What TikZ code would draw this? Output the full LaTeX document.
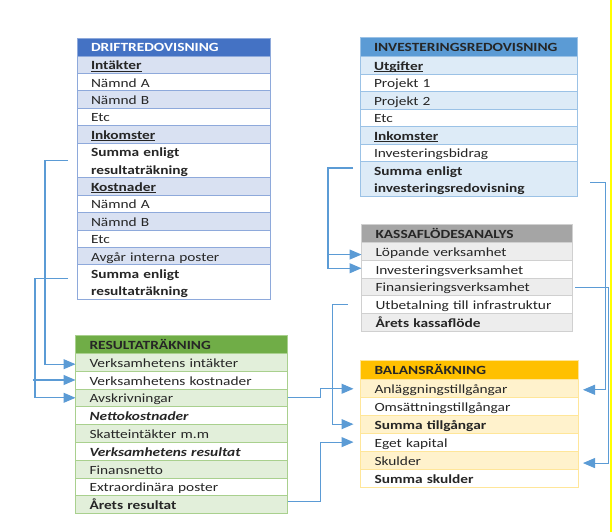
\documentclass[tikz,border=0pt]{standalone}
\usepackage{fontspec}
\setmainfont{Carlito}[FakeStretch=1.23]
\usetikzlibrary{arrows.meta,calc}
\definecolor{txt}{HTML}{262626}
\definecolor{dhead}{HTML}{4472C4}
\definecolor{dfill}{HTML}{D9E1F2}
\definecolor{dbord}{HTML}{8EA9DB}
\definecolor{ihead}{HTML}{5B9BD5}
\definecolor{ifill}{HTML}{DDEBF7}
\definecolor{ibord}{HTML}{9BC2E6}
\definecolor{khead}{HTML}{A5A5A5}
\definecolor{kfill}{HTML}{EDEDED}
\definecolor{kbord}{HTML}{D0D0D0}
\definecolor{rhead}{HTML}{70AD47}
\definecolor{rfill}{HTML}{E2EFDA}
\definecolor{rbord}{HTML}{A9D08E}
\definecolor{bhead}{HTML}{FFC000}
\definecolor{bfill}{HTML}{FFF2CC}
\definecolor{bbord}{HTML}{FFE699}
\definecolor{cblue}{HTML}{5B9BD5}
\definecolor{yel}{HTML}{FFFF00}
\newcommand\cellfont{\fontsize{12.5}{17.6}\selectfont}
\newcommand\rs{\rule[-2.8pt]{0pt}{15.6pt}}
\newcommand\myul[1]{\setbox0\hbox{#1}\rlap{\rule[-1.7pt]{\wd0}{0.75pt}}#1}
\tikzset{
  cell/.style={draw, line width=0.6pt, anchor=north west, inner xsep=14pt, inner ysep=0pt,
    outer sep=0pt, align=left, font=\cellfont, text=txt, execute at begin node=\rs},
  bf/.style={font=\cellfont\bfseries},
  bi/.style={font=\cellfont\bfseries\itshape},
  two/.style={minimum height=#1},
  drow/.style={cell, draw=dbord, text width=165pt, minimum height=17.4pt},
  dhd/.style={drow, fill=dhead, text=white, bf, minimum height=18pt},
  irow/.style={cell, draw=ibord, text width=189pt, minimum height=17.5pt},
  ihd/.style={irow, fill=ihead, bf, minimum height=19pt},
  krow/.style={cell, draw=kbord, text width=182.5pt, minimum height=17.7pt},
  khd/.style={krow, fill=khead, bf, minimum height=18.4pt},
  rrow/.style={cell, draw=rbord, text width=184pt, minimum height=17.8pt},
  rhd/.style={rrow, fill=rhead, bf, minimum height=18.3pt},
  brow/.style={cell, draw=bbord, text width=189.5pt, minimum height=17.95pt},
  bhd/.style={brow, fill=bhead, bf, minimum height=19.3pt},
  conn/.style={draw=cblue, line width=1.1pt, -{Triangle[length=12pt,width=10pt]}},
  connthin/.style={conn, line width=0.9pt},
}
\begin{document}
\begin{tikzpicture}[x=1pt,y=-1pt]
\useasboundingbox (0,0) rectangle (614,532);
\fill[white] (0,0) rectangle (614,532);

% DRIFTREDOVISNING
\node[dhd] (d0) at (77,38) {DRIFTREDOVISNING};
\node[drow, fill=dfill, bf] (d1) at (d0.south west) {\myul{Intäkter}};
\node[drow, fill=white] (d2) at (d1.south west) {Nämnd A};
\node[drow, fill=dfill] (d3) at (d2.south west) {Nämnd B};
\node[drow, fill=white] (d4) at (d3.south west) {Etc};
\node[drow, fill=dfill, bf] (d5) at (d4.south west) {\myul{Inkomster}};
\node[drow, fill=white, bf, two=34.8pt] (d6) at (d5.south west) {Summa enligt\\\rs resultaträkning};
\node[drow, fill=dfill, bf] (d7) at (d6.south west) {\myul{Kostnader}};
\node[drow, fill=white] (d8) at (d7.south west) {Nämnd A};
\node[drow, fill=dfill] (d9) at (d8.south west) {Nämnd B};
\node[drow, fill=white] (d10) at (d9.south west) {Etc};
\node[drow, fill=dfill] (d11) at (d10.south west) {Avgår interna poster};
\node[drow, fill=white, bf, two=34.8pt] (d12) at (d11.south west) {Summa enligt\\\rs resultaträkning};

% INVESTERINGSREDOVISNING
\node[ihd] (i0) at (360,37.5) {INVESTERINGSREDOVISNING};
\node[irow, fill=ifill, bf] (i1) at (i0.south west) {\myul{Utgifter}};
\node[irow, fill=white] (i2) at (i1.south west) {Projekt 1};
\node[irow, fill=ifill] (i3) at (i2.south west) {Projekt 2};
\node[irow, fill=white] (i4) at (i3.south west) {Etc};
\node[irow, fill=ifill, bf] (i5) at (i4.south west) {\myul{Inkomster}};
\node[irow, fill=white] (i6) at (i5.south west) {Investeringsbidrag};
\node[irow, fill=ifill, bf, two=35pt] (i7) at (i6.south west) {Summa enligt\\\rs investeringsredovisning};

% KASSAFLÖDESANALYS
\node[khd] (k0) at (361.5,224.3) {KASSAFLÖDESANALYS};
\node[krow, fill=kfill] (k1) at (k0.south west) {Löpande verksamhet};
\node[krow, fill=white] (k2) at (k1.south west) {Investeringsverksamhet};
\node[krow, fill=kfill] (k3) at (k2.south west) {Finansieringsverksamhet};
\node[krow, fill=white] (k4) at (k3.south west) {Utbetalning till infrastruktur};
\node[krow, fill=kfill, bf] (k5) at (k4.south west) {Årets kassaflöde};

% RESULTATRÄKNING
\node[rhd] (r0) at (75.5,335) {RESULTATRÄKNING};
\node[rrow, fill=rfill] (r1) at (r0.south west) {Verksamhetens intäkter};
\node[rrow, fill=white] (r2) at (r1.south west) {Verksamhetens kostnader};
\node[rrow, fill=rfill] (r3) at (r2.south west) {Avskrivningar};
\node[rrow, fill=white, bi] (r4) at (r3.south west) {Nettokostnader};
\node[rrow, fill=rfill] (r5) at (r4.south west) {Skatteintäkter m.m};
\node[rrow, fill=white, bi] (r6) at (r5.south west) {Verksamhetens resultat};
\node[rrow, fill=rfill] (r7) at (r6.south west) {Finansnetto};
\node[rrow, fill=white] (r8) at (r7.south west) {Extraordinära poster};
\node[rrow, fill=rfill, bf] (r9) at (r8.south west) {Årets resultat};

% BALANSRÄKNING
\node[bhd] (b0) at (360.5,360) {BALANSRÄKNING};
\node[brow, fill=bfill] (b1) at (b0.south west) {Anläggningstillgångar};
\node[brow, fill=white] (b2) at (b1.south west) {Omsättningstillgångar};
\node[brow, fill=bfill, bf] (b3) at (b2.south west) {Summa tillgångar};
\node[brow, fill=white] (b4) at (b3.south west) {Eget kapital};
\node[brow, fill=bfill] (b5) at (b4.south west) {Skulder};
\node[brow, fill=white, bf] (b6) at (b5.south west) {Summa skulder};

% connectors left
\draw[conn] ($(d6.west)+(-9,0)$) -- ++(-23,0) |- ($(r1.west)+(0,2)$);
\coordinate (dv) at ($(d12.west)+(-42,-4)$);
\draw[conn] ($(d12.west)+(-9,-4)$) -- (dv) |- (r3.west);
\coordinate (r2s) at ($(r2.west)+(-43,0)$);
\draw[conn] (r2s) -- (r2.west);

% investering -> kassa
\coordinate (iv) at ($(i7.west)+(-32,-11)$);
\coordinate (k1a) at ($(k1.west)+(0,3)$);
\draw[conn] ($(i7.west)+(-7,-11)$) -- (iv) |- ($(k2.west)+(0,-1)$);
\draw[conn] (iv |- k1a) -- (k1a);

% resultat/kassa -> balans
\draw[conn] (r3.east) -- ++(33,0) |- ($(b1.west)+(-7,0.5)$);
\draw[conn] ($(k4.west)+(-14,0)$) -- ++(-15,0) |- ($(b3.west)+(-7,0)$);
\draw[conn] ($(r9.east)+(0,-3)$) -- ++(33,0) |- ($(b4.west)+(-7,0)$);

% right side
\draw[connthin] ($(i7.east)+(13,3)$) -- ++(15,0) |- ($(b1.east)+(5,1.5)$);
\draw[connthin] ($(k3.east)+(3,0.5)$) -- ++(33.5,0) |- ($(b5.east)+(5,3)$);

% yellow edge line
\draw[yel, line width=2pt] (610.8,0) -- (610.8,532);
\end{tikzpicture}
\end{document}
